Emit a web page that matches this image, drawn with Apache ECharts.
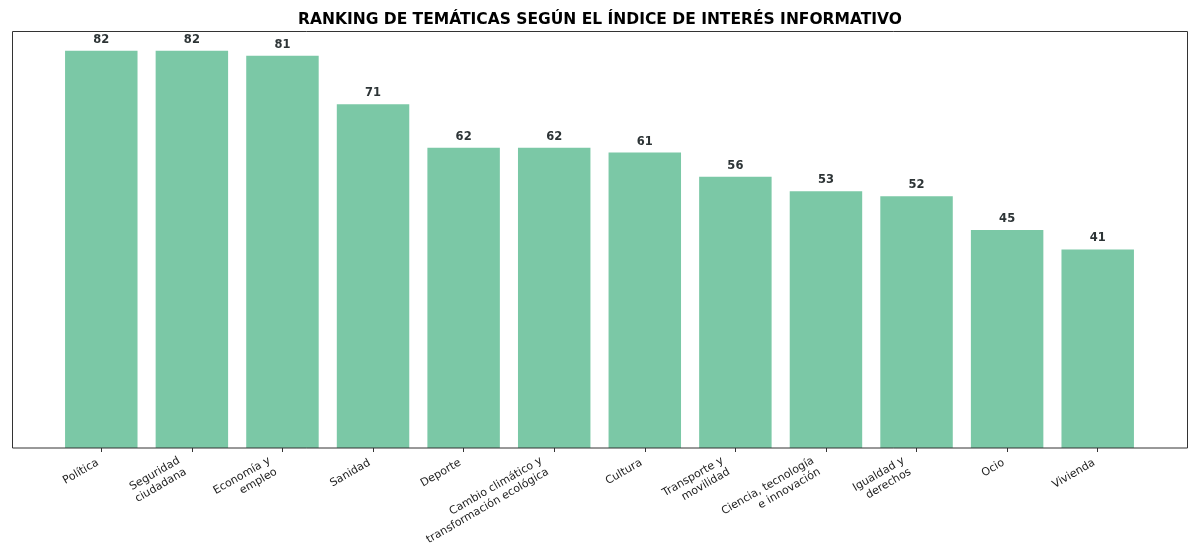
<!DOCTYPE html>
<html>
<head>
<meta charset="utf-8">
<script src="https://cdn.jsdelivr.net/npm/echarts@6/dist/echarts.min.js"></script>
<style>html,body{margin:0;padding:0;background:#fff}#c{width:1200px;height:560px}</style>
</head>
<body>
<div id="c"></div>
<script>
const categories = ['Política','Seguridad\nciudadana','Economía y\nempleo','Sanidad','Deporte','Cambio climático y\ntransformación ecológica','Cultura','Transporte y\nmovilidad','Ciencia, tecnología\ne innovación','Igualdad y\nderechos','Ocio','Vivienda'];
const values = [82,82,81,71,62,62,61,56,53,52,45,41];
const titleText = 'RANKING DE TEMÁTICAS SEGÚN EL ÍNDICE DE INTERÉS INFORMATIVO';

const LINE_H = 13;
const catData = categories.map(function(c){
  const n = c.split('\n').length;
  return {value:c, textStyle:{padding: n === 1 ? [0, 4, 0, 0] : [3.5, 11, 0, 0]}};
});

const chart = echarts.init(document.getElementById('c'), null, {renderer:'canvas'});
chart.setOption({
  backgroundColor:'#fff',
  animation:false,
  title:{text:titleText,left:'center',top:7,textStyle:{fontFamily:'DejaVu Sans',fontWeight:'bold',fontSize:15.5,color:'#000'}},
  grid:{left:56,right:57,top:31,bottom:112,containLabel:false},
  graphic:[{type:'rect',shape:{x:12.5,y:31.5,width:1175,height:416.5},style:{fill:'none',stroke:'#333',lineWidth:1},z:10,silent:true}],
  xAxis:{type:'category',data:catData,
    axisLine:{show:false},
    axisTick:{show:true,alignWithLabel:true,length:4,lineStyle:{color:'#333'}},
    axisLabel:{interval:0,rotate:30,align:'right',verticalAlign:'top',margin:12,fontFamily:'DejaVu Sans',fontSize:11,color:'#222',lineHeight:LINE_H}},
  yAxis:{type:'value',min:0,max:86.1,show:false,splitLine:{show:false}},
  series:[{type:'bar',data:values,barWidth:'80%',itemStyle:{color:'#7bc8a6'},
    label:{show:true,position:'top',distance:5,fontFamily:'DejaVu Sans',fontWeight:'bold',fontSize:11.5,color:'#2d3436'}}]
});
</script>
</body>
</html>
